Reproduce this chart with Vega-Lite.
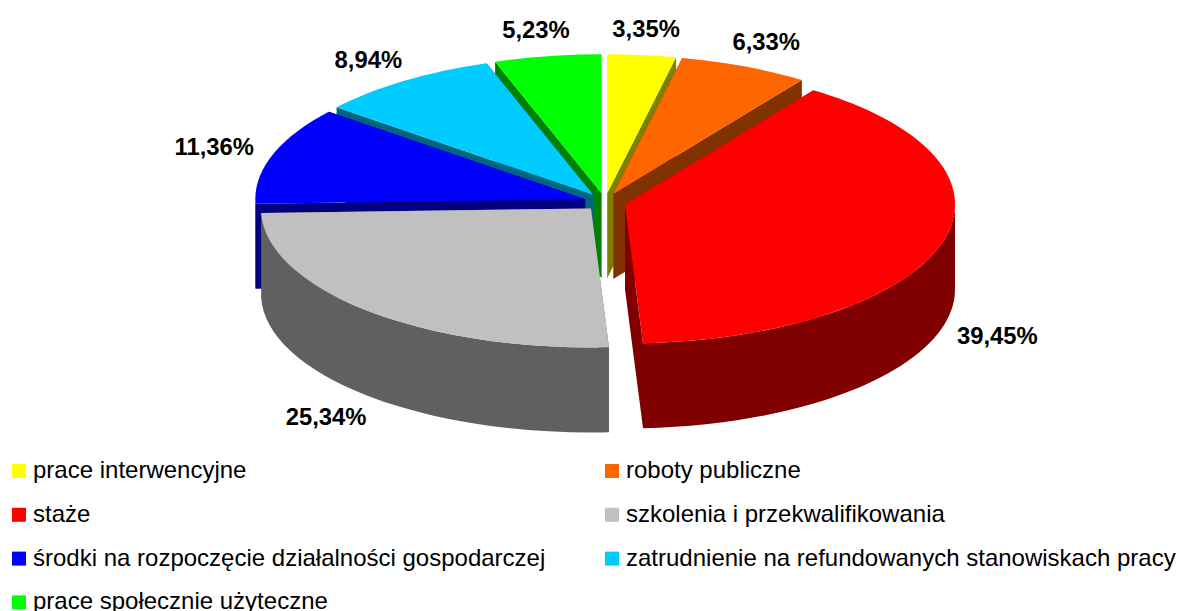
{
"$schema":"https://vega.github.io/schema/vega-lite/v6.json",
"autosize":{"type":"none"},"padding":0,"width":1178,"height":611,
"background":"white",
"data":{"values":[
{"ord":1,"category":"prace interwencyjne","share":3.35},
{"ord":2,"category":"roboty publiczne","share":6.33},
{"ord":3,"category":"staże","share":39.45},
{"ord":4,"category":"szkolenia i przekwalifikowania","share":25.34},
{"ord":5,"category":"środki na rozpoczęcie działalności gospodarczej","share":11.36},
{"ord":6,"category":"zatrudnienie na refundowanych stanowiskach pracy","share":8.94},
{"ord":7,"category":"prace społecznie użyteczne","share":5.23}
]},
"transform":[
{"stack":"share","as":["c0","c1"],"offset":"zero","sort":[{"field":"ord","order":"ascending"}]},
{"calculate":"2*PI*datum.c0/100","as":"t0"},
{"calculate":"2*PI*datum.c1/100","as":"t1"},
{"calculate":"(datum.t0+datum.t1)/2","as":"m"},
{"calculate":"-cos(datum.m)","as":"near"},
{"calculate":"16+0.063*330*sin(datum.m)","as":"ax"},
{"calculate":"-103.5-0.063*139*cos(datum.m)","as":"ay"},
{"calculate":"datum.ax+330*sin(datum.t0)","as":"x0"},
{"calculate":"datum.ay-139*cos(datum.t0)","as":"y0"},
{"calculate":"datum.ax+330*sin(datum.t1)","as":"x1"},
{"calculate":"datum.ay-139*cos(datum.t1)","as":"y1"},
{"calculate":"max(datum.t0,PI/2)","as":"wa"},
{"calculate":"min(datum.t1,3*PI/2)","as":"wb"},
{"calculate":"datum.ax+330*sin(datum.wa)","as":"xa"},
{"calculate":"datum.ay-139*cos(datum.wa)","as":"ya"},
{"calculate":"datum.ax+330*sin(datum.wb)","as":"xb"},
{"calculate":"datum.ay-139*cos(datum.wb)","as":"yb"},
{"calculate":"'M'+datum.ax+' '+datum.ay+'L'+datum.x0+' '+datum.y0+'A330 139 0 0 1 '+datum.x1+' '+datum.y1+'Z'","as":"topPath"},
{"calculate":"datum.x0>datum.ax?'M'+datum.ax+' '+datum.ay+'L'+datum.x0+' '+datum.y0+'L'+datum.x0+' '+(datum.y0+85)+'L'+datum.ax+' '+(datum.ay+85)+'Z':'M'+datum.x0+' '+datum.y0+'L'+datum.ax+' '+datum.ay+'L'+datum.ax+' '+(datum.ay+85)+'L'+datum.x0+' '+(datum.y0+85)+'Z'","as":"face0"},
{"calculate":"datum.x1>datum.ax?'M'+datum.ax+' '+datum.ay+'L'+datum.x1+' '+datum.y1+'L'+datum.x1+' '+(datum.y1+85)+'L'+datum.ax+' '+(datum.ay+85)+'Z':'M'+datum.x1+' '+datum.y1+'L'+datum.ax+' '+datum.ay+'L'+datum.ax+' '+(datum.ay+85)+'L'+datum.x1+' '+(datum.y1+85)+'Z'","as":"face1"},
{"calculate":"datum.face0+datum.face1+(datum.wa<datum.wb?'M'+datum.xb+' '+datum.yb+'A330 139 0 0 0 '+datum.xa+' '+datum.ya+'L'+datum.xa+' '+(datum.ya+85)+'A330 139 0 0 1 '+datum.xb+' '+(datum.yb+85)+'Z':'')","as":"wallPath"},
{"calculate":"603+410*sin(datum.m)","as":"lx"},
{"calculate":"204-175*cos(datum.m)+(cos(datum.m)<0?85:0)","as":"ly"},
{"calculate":"replace(format(datum.share,'.2f'),'.',',')+'%'","as":"label"}
],
"layer":[
{"mark":{"type":"point","filled":true,"opacity":1,"strokeWidth":0},
 "encoding":{
  "shape":{"field":"wallPath","type":"nominal","scale":null},
  "size":{"value":4},
  "order":{"field":"near","type":"quantitative"},
  "color":{"field":"category","type":"nominal","legend":null,
   "scale":{"domain":["prace interwencyjne","staże","środki na rozpoczęcie działalności gospodarczej","prace społecznie użyteczne","roboty publiczne","szkolenia i przekwalifikowania","zatrudnienie na refundowanych stanowiskach pracy"],
   "range":["#808000","#800000","#000080","#008000","#803300","#606060","#006680"]}}
 }},
{"mark":{"type":"point","filled":true,"opacity":1,"strokeWidth":0},
 "encoding":{
  "shape":{"field":"topPath","type":"nominal","scale":null},
  "size":{"value":4},
  "order":{"field":"near","type":"quantitative"},
  "color":{"field":"category","type":"nominal",
   "scale":{"domain":["prace interwencyjne","staże","środki na rozpoczęcie działalności gospodarczej","prace społecznie użyteczne","roboty publiczne","szkolenia i przekwalifikowania","zatrudnienie na refundowanych stanowiskach pracy"],
   "range":["#FFFF00","#FF0000","#0000FF","#00FF00","#FF6600","#C0C0C0","#00CCFF"]},
   "legend":{"title":null,"orient":"none","legendX":7,"legendY":459,"columns":2,"symbolType":"square","symbolSize":196,"symbolStrokeWidth":0,"labelFont":"Liberation Sans","labelFontSize":24,"labelColor":"#000000","labelLimit":700,"rowPadding":19.8,"columnPadding":54,"labelOffset":2,"symbolOpacity":1,"padding":0}}
 }},
{"mark":{"type":"text","font":"Liberation Sans","fontWeight":"bold","fontSize":23.8,"color":"#000000","align":"center","baseline":"middle"},
 "encoding":{
  "x":{"field":"lx","type":"quantitative","axis":null,"scale":{"domain":[0,1178],"nice":false,"zero":false}},
  "y":{"field":"ly","type":"quantitative","axis":null,"scale":{"domain":[611,0],"nice":false,"zero":false}},
  "text":{"field":"label","type":"nominal"}
 }}
],
"resolve":{"scale":{"color":"independent"}},
"config":{"view":{"stroke":null}}
}
